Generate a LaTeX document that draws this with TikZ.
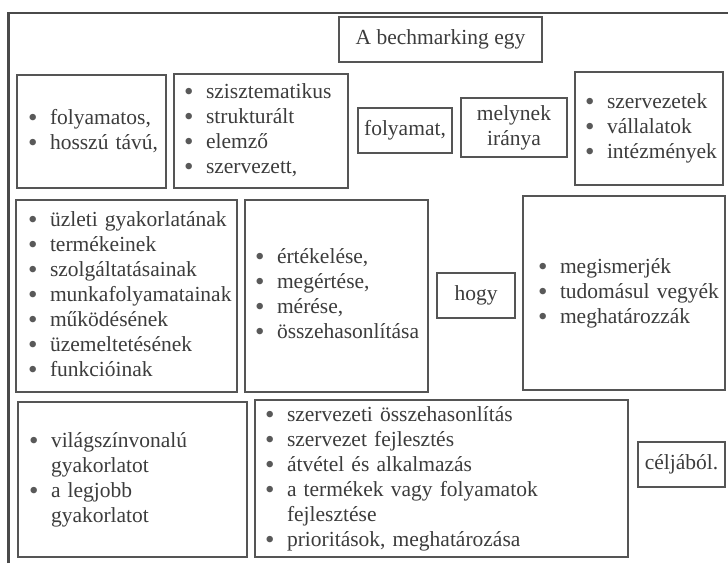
\documentclass[tikz,border=0pt]{standalone}
\usepackage{fontspec}
\setmainfont{Liberation Serif}
\definecolor{ln}{HTML}{555555}
\definecolor{tx}{HTML}{3C3C3C}
\definecolor{fr}{HTML}{4A4A4A}
\newcommand\bul{\makebox[21pt][l]{\hspace{-1pt}\raisebox{-2pt}[0pt][0pt]{\fontsize{27}{27}\selectfont\color{tx!85}\textbullet}}}
\newcommand\lst[1]{\begin{tabular}{@{}l@{}}#1\end{tabular}}
\begin{document}
\begin{tikzpicture}[x=1pt,y=-1pt,
  box/.style={draw=ln, line width=2pt, rectangle, text=tx,
    font=\fontsize{21.5}{25}\selectfont, inner ysep=0pt, inner xsep=0pt},
  cbox/.style={box, align=center},
  lbox/.style={box, align=left},
  frame/.style={draw=fr, line width=2.6pt}
]
\useasboundingbox (0,0) rectangle (728,563);
\fill[white] (0,0) rectangle (728,563);

\coordinate (fbl) at (8.5,563);
\coordinate (ftl) at (8.5,13);
\coordinate (ftr) at (728,13);
\draw[frame] (fbl) -- (ftl) -- (ftr);

\node[cbox, minimum width=203pt, minimum height=45pt] (title) at (440.5,39.5) {A bechmarking egy};

\node[lbox, minimum width=149pt, minimum height=113pt, inner xsep=12pt, text width=125pt] (folyam) at (91.5,131.5)
  {\lst{\bul folyamatos,\\ \bul hosszú távú,}};

\node[lbox, minimum width=174pt, minimum height=114pt, inner xsep=11pt, text width=152pt] (szisz) at (261,131)
  {\lst{\bul szisztematikus\\ \bul strukturált\\ \bul elemző\\ \bul szervezett,}};

\node[cbox, minimum width=94pt, minimum height=45pt] (folyamat) at (405,130.5) {folyamat,};

\node[cbox, minimum width=106pt, minimum height=59pt] (melynek) at (514,127.5) {melynek\\iránya};

\node[lbox, minimum width=148pt, minimum height=113pt, inner xsep=11pt, text width=126pt] (szerv) at (649,128.5)
  {\lst{\bul szervezetek\\ \bul vállalatok\\ \bul intézmények}};

\node[lbox, minimum width=221pt, minimum height=192pt, inner xsep=13pt, text width=195pt] (uzleti) at (126.5,296)
  {\lst{\bul üzleti gyakorlatának\\ \bul termékeinek\\ \bul szolgáltatásainak\\ \bul munkafolyamatainak\\ \bul működésének\\ \bul üzemeltetésének\\ \bul funkcióinak}};

\node[lbox, minimum width=183pt, minimum height=192pt, inner xsep=11pt, text width=161pt] (ertek) at (336.5,296)
  {\lst{\bul értékelése,\\ \bul megértése,\\ \bul mérése,\\ \bul összehasonlítása}};

\node[cbox, minimum width=78pt, minimum height=45pt] (hogy) at (476,295.5) {hogy};

\node[lbox, minimum width=202pt, minimum height=194pt, inner xsep=16pt, text width=170pt] (megism) at (624,293)
  {\lst{\bul megismerjék\\ \bul tudomásul vegyék\\ \bul meghatározzák}};

\node[lbox, minimum width=229pt, minimum height=155pt, inner xsep=12pt, text width=205pt] (vilag) at (132.5,479.5)
  {\lst{\bul világszínvonalú\\ \hspace{21pt}gyakorlatot\\ \bul a legjobb\\ \hspace{21pt}gyakorlatot}};

\node[lbox, minimum width=373pt, minimum height=157pt, inner xsep=11pt, text width=351pt] (celok) at (441.5,478.5)
  {\lst{\bul szervezeti összehasonlítás\\ \bul szervezet fejlesztés\\ \bul átvétel és alkalmazás\\ \bul a termékek vagy folyamatok\\ \hspace{21pt}fejlesztése\\ \bul prioritások, meghatározása}};

\node[cbox, minimum width=87pt, minimum height=45pt] (celjabol) at (681.5,464.5) {céljából.};
\end{tikzpicture}
\end{document}
